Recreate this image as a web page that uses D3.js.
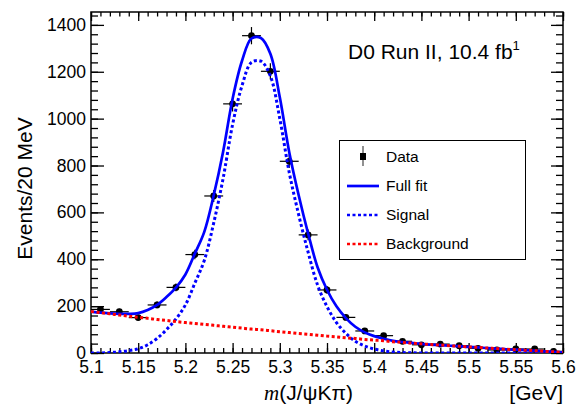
<!DOCTYPE html>
<html>
<head>
<meta charset="utf-8">
<script src="https://cdn.jsdelivr.net/npm/d3@7"></script>
<style>
  html, body { margin: 0; padding: 0; background: #fff; }
  svg text { font-family: "Liberation Sans", Arial, Helvetica, sans-serif; fill: #000; }
</style>
</head>
<body>
<div id="chart"></div>
<script>
// binned data, 20 MeV bins
const massBins = [5.11, 5.13, 5.15, 5.17, 5.19, 5.21, 5.23, 5.25, 5.27, 5.29, 5.31, 5.33, 5.35,
                  5.37, 5.39, 5.41, 5.43, 5.45, 5.47, 5.49, 5.51, 5.53, 5.55, 5.57, 5.59];
const events = [186, 176, 151, 205, 280, 420, 670, 1063, 1354, 1202, 818, 504, 269,
                152, 94, 74, 50, 35, 38, 31, 20, 13, 17, 17, 7];

// fit components, sampled every 10 MeV
const fitMass = [5.10, 5.11, 5.12, 5.13, 5.14, 5.15, 5.16, 5.17, 5.18, 5.19,
                 5.20, 5.21, 5.22, 5.23, 5.24, 5.25, 5.26, 5.27, 5.28, 5.29,
                 5.30, 5.31, 5.32, 5.33, 5.34, 5.35, 5.36, 5.37, 5.38, 5.39,
                 5.40, 5.41, 5.42, 5.43, 5.44, 5.45, 5.46, 5.47, 5.48, 5.49,
                 5.50, 5.51, 5.52, 5.53, 5.54, 5.55, 5.56, 5.57, 5.58, 5.59, 5.60];
const signalFit = [0, 0, 2, 5, 10, 18, 35, 62, 100, 145,
                   205, 298, 395, 555, 746, 975, 1141, 1240, 1245, 1182,
                   1000, 770, 590, 430, 290, 198, 130, 84, 50, 30,
                   17, 9, 4, 2, 1, 0, 0, 0, 0, 0,
                   0, 0, 0, 0, 0, 0, 0, 0, 0, 0, 0];
const backgroundFit = [177, 172, 167, 162, 157, 152, 148, 143, 139, 134,
                       130, 126, 122, 118, 114, 110, 106, 102, 99, 95,
                       91, 87, 83, 80, 76, 72, 69, 65, 62, 58,
                       55, 52, 48, 45, 42, 39, 36, 34, 31, 29,
                       26, 24, 21, 19, 16, 14, 12, 10, 7, 5, 3];

const xMajor = [5.1, 5.15, 5.2, 5.25, 5.3, 5.35, 5.4, 5.45, 5.5, 5.55, 5.6];
const yMajor = [0, 200, 400, 600, 800, 1000, 1200, 1400];

const legendLabels = ['Data', 'Full fit', 'Signal', 'Background'];

const width = 582, height = 406;
const plot = { left: 91, right: 563, top: 12, bottom: 353 };

const x = d3.scaleLinear().domain([5.1, 5.6]).range([plot.left, plot.right]);
const y = d3.scaleLinear().domain([0, 1455]).range([plot.bottom, plot.top]);

const xMinor = d3.range(5.1, 5.6001, 0.01).map(v => +v.toFixed(2));
const yMinor = d3.range(0, 1441, 40);

const svg = d3.select('#chart').append('svg')
    .attr('width', width)
    .attr('height', height);

/* ------------ axes, ticks inside the frame ------------ */

const tidy = g => g.call(s => s.select('.domain').remove())
                   .call(s => s.selectAll('line').attr('stroke', '#000').attr('stroke-width', 1.3));

svg.append('g').attr('transform', `translate(0,${plot.bottom})`)
    .call(d3.axisBottom(x).tickValues(xMinor).tickSize(-5).tickFormat('')).call(tidy);
svg.append('g').attr('transform', `translate(0,${plot.bottom})`)
    .call(d3.axisBottom(x).tickValues(xMajor).tickSize(-10).tickPadding(8).tickFormat(d3.format('')))
    .call(tidy)
    .call(g => g.selectAll('text').attr('font-size', 17.5));

svg.append('g').attr('transform', `translate(0,${plot.top})`)
    .call(d3.axisTop(x).tickValues(xMinor).tickSize(-4.5).tickFormat('')).call(tidy);
svg.append('g').attr('transform', `translate(0,${plot.top})`)
    .call(d3.axisTop(x).tickValues(xMajor).tickSize(-9).tickFormat('')).call(tidy);

svg.append('g').attr('transform', `translate(${plot.left},0)`)
    .call(d3.axisLeft(y).tickValues(yMinor).tickSize(-7).tickFormat('')).call(tidy);
svg.append('g').attr('transform', `translate(${plot.left},0)`)
    .call(d3.axisLeft(y).tickValues(yMajor).tickSize(-13).tickPadding(5).tickFormat(d3.format('d')))
    .call(tidy)
    .call(g => g.selectAll('text').attr('font-size', 17.5));

svg.append('g').attr('transform', `translate(${plot.right},0)`)
    .call(d3.axisRight(y).tickValues(yMinor).tickSize(-7).tickFormat('')).call(tidy);
svg.append('g').attr('transform', `translate(${plot.right},0)`)
    .call(d3.axisRight(y).tickValues(yMajor).tickSize(-12).tickFormat('')).call(tidy);

svg.selectAll('.tick text').attr('fill', '#000').attr('font-family', '"Liberation Sans", Arial, sans-serif');

svg.append('rect')
    .attr('x', plot.left).attr('y', plot.top)
    .attr('width', plot.right - plot.left).attr('height', plot.bottom - plot.top)
    .attr('fill', 'none').attr('stroke', '#000').attr('stroke-width', 1.5);

/* ------------ titles ------------ */

svg.append('text')
    .attr('transform', `translate(32,${(117 + 260) / 2}) rotate(-90)`)
    .attr('text-anchor', 'middle')
    .attr('font-size', 21)
    .text('Events/20 MeV');

const xTitle = svg.append('text').attr('x', 264).attr('y', 400).attr('font-size', 21);
xTitle.append('tspan').attr('font-family', '"Liberation Serif", "Times New Roman", serif')
    .attr('font-style', 'italic').text('m');
xTitle.append('tspan').text('(J/ψKπ)');

svg.append('text')
    .attr('x', plot.right).attr('y', 400)
    .attr('text-anchor', 'end')
    .attr('font-size', 21)
    .text('[GeV]');

const runLabel = svg.append('text').attr('x', 348).attr('y', 59).attr('font-size', 21);
runLabel.append('tspan').text('D0 Run II, 10.4 fb');
runLabel.append('tspan').attr('font-size', 13).attr('dy', -9).text('1');

/* ------------ clip ------------ */

svg.append('clipPath').attr('id', 'frame')
    .append('rect')
    .attr('x', plot.left).attr('y', plot.top)
    .attr('width', plot.right - plot.left).attr('height', plot.bottom - plot.top);

const inner = svg.append('g').attr('clip-path', 'url(#frame)');

/* ------------ data with errors ------------ */

const data = massBins.map((m, i) => ({ m, n: events[i], err: Math.sqrt(events[i]) }));
const halfBin = 0.01;

const pts = inner.append('g').attr('class', 'data');
pts.selectAll('line.xerr').data(data).enter().append('line')
    .attr('x1', d => x(d.m - halfBin)).attr('x2', d => x(d.m + halfBin))
    .attr('y1', d => y(d.n)).attr('y2', d => y(d.n))
    .attr('stroke', '#000').attr('stroke-width', 1.2);
pts.selectAll('line.yerr').data(data).enter().append('line')
    .attr('x1', d => x(d.m)).attr('x2', d => x(d.m))
    .attr('y1', d => y(d.n - d.err)).attr('y2', d => y(d.n + d.err))
    .attr('stroke', '#000').attr('stroke-width', 1.2);
pts.selectAll('circle').data(data).enter().append('circle')
    .attr('cx', d => x(d.m)).attr('cy', d => y(d.n))
    .attr('r', 3.4).attr('fill', '#000');

/* ------------ fit curves ------------ */

const fit = fitMass.map((m, i) => ({
    m,
    sig: signalFit[i],
    bkg: backgroundFit[i],
    full: signalFit[i] + backgroundFit[i]
}));

const curve = key => d3.line()
    .x(d => x(d.m))
    .y(d => y(Math.max(0, d[key])))
    .curve(d3.curveCatmullRom.alpha(0.5));

inner.append('path').datum(fit)
    .attr('d', curve('full'))
    .attr('fill', 'none').attr('stroke', '#0000ff').attr('stroke-width', 2.7);

inner.append('path').datum(fit)
    .attr('d', curve('sig'))
    .attr('fill', 'none').attr('stroke', '#0000ff').attr('stroke-width', 3)
    .attr('stroke-dasharray', '3,2.5');

inner.append('path').datum(fit)
    .attr('d', curve('bkg'))
    .attr('fill', 'none').attr('stroke', '#ff0000').attr('stroke-width', 3)
    .attr('stroke-dasharray', '3,2.5');

/* ------------ legend ------------ */

const legend = svg.append('g').attr('class', 'legend');
legend.append('rect')
    .attr('x', 339.5).attr('y', 140.5).attr('width', 186).attr('height', 119)
    .attr('fill', '#fff').attr('stroke', '#000').attr('stroke-width', 1);

const rowY = [157, 186, 215, 244];
const styles = [
    null,
    { stroke: '#0000ff', dash: null },
    { stroke: '#0000ff', dash: '3,2.5' },
    { stroke: '#ff0000', dash: '3,2.5' }
];

legendLabels.forEach((label, i) => {
    const row = legend.append('g').attr('transform', `translate(0,${rowY[i]})`);
    if (i === 0) {
        row.append('line').attr('x1', 363).attr('x2', 363).attr('y1', -11).attr('y2', 9)
            .attr('stroke', '#555').attr('stroke-width', 1.3);
        row.append('rect').attr('x', 360).attr('y', -4).attr('width', 6).attr('height', 7).attr('fill', '#000');
    } else {
        row.append('line').attr('x1', 347).attr('x2', 379).attr('y1', 0).attr('y2', 0)
            .attr('stroke', styles[i].stroke).attr('stroke-width', 2.7)
            .attr('stroke-dasharray', styles[i].dash);
    }
    row.append('text').attr('x', 386).attr('y', 0).attr('dy', '0.35em')
        .attr('font-size', 15.5).text(label);
});
</script>
</body>
</html>
